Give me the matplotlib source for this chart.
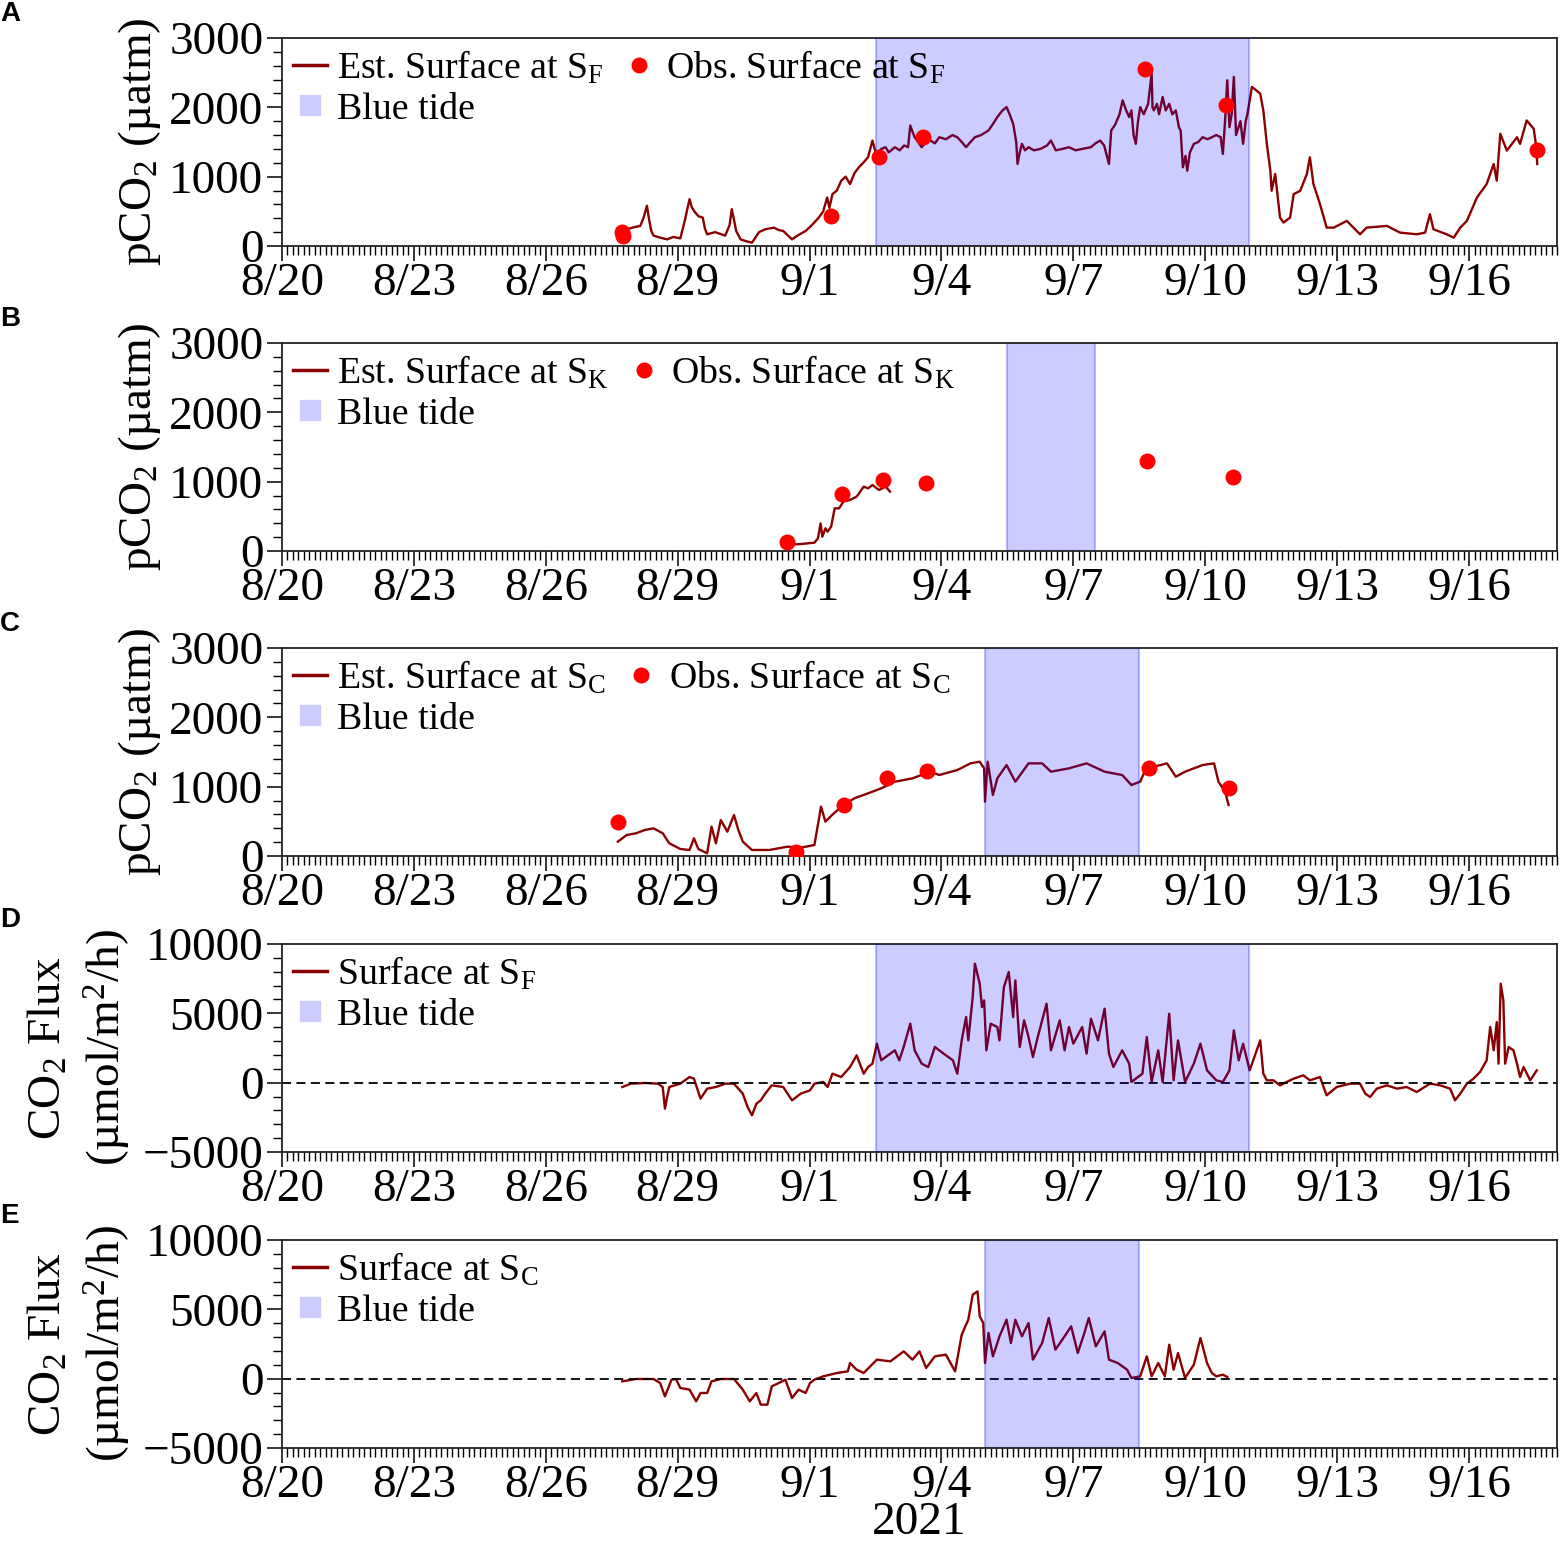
import numpy as np
import matplotlib
matplotlib.use('Agg')
import matplotlib.pyplot as plt
from matplotlib.lines import Line2D
from matplotlib.ticker import MultipleLocator, FixedLocator

plt.rcParams['font.family'] = 'Liberation Serif'
plt.rcParams['mathtext.fontset'] = 'custom'
plt.rcParams['mathtext.rm'] = 'Liberation Serif'
plt.rcParams['mathtext.it'] = 'Liberation Serif:italic'

# -----------------------------------
# Data (x = days since 2021-08-20 00:00)
# -----------------------------------
tick_days = [0, 3, 6, 9, 12, 15, 18, 21, 24, 27]
tick_labels = ['8/20', '8/23', '8/26', '8/29', '9/1', '9/4', '9/7', '9/10', '9/13', '9/16']

# blue tide periods (start, end)
tide_sf = (13.5, 22.0)
tide_sk = (16.5, 18.5)
tide_sc = (16.0, 19.5)

# A: estimated / observed surface pCO2 at S_F
sf_est_day = [7.74, 7.84, 8.00, 8.15, 8.22, 8.30, 8.35, 8.40, 8.45, 8.60, 8.76, 8.90, 9.06, 9.16,
              9.27, 9.32, 9.37, 9.47, 9.57, 9.62, 9.67, 9.85, 10.08, 10.18, 10.23, 10.28, 10.33,
              10.43, 10.55, 10.69, 10.85, 10.99, 11.19, 11.30, 11.40, 11.60, 11.75, 11.91, 12.05,
              12.21, 12.31, 12.40, 12.45, 12.52, 12.62, 12.72, 12.82, 12.92, 13.02, 13.12, 13.22,
              13.33, 13.43, 13.48, 13.53, 13.63, 13.73, 13.80, 13.94, 14.05, 14.15, 14.24, 14.29,
              14.34, 14.39, 14.47, 14.55, 14.65, 14.75, 14.85, 14.95, 15.10, 15.25, 15.36, 15.46,
              15.56, 15.66, 15.76, 15.90, 16.07, 16.17, 16.27, 16.38, 16.48, 16.55, 16.63, 16.70,
              16.73, 16.78, 16.83, 16.90, 16.98, 17.10, 17.25, 17.40, 17.49, 17.60, 17.75, 17.90,
              18.05, 18.20, 18.40, 18.50, 18.61, 18.70, 18.81, 18.86, 18.95, 19.05, 19.12, 19.20,
              19.27, 19.32, 19.37, 19.42, 19.47, 19.52, 19.60, 19.70, 19.78, 19.80, 19.83, 19.90,
              19.95, 20.03, 20.10, 20.18, 20.25, 20.33, 20.40, 20.44, 20.49, 20.55, 20.59, 20.65,
              20.74, 20.84, 20.94, 21.05, 21.15, 21.25, 21.35, 21.40, 21.45, 21.50, 21.55, 21.60,
              21.65, 21.70, 21.80, 21.86, 21.92, 21.96, 22.06, 22.15, 22.25, 22.32, 22.40, 22.48,
              22.51, 22.59, 22.70, 22.78, 22.93, 23.01, 23.16, 23.31, 23.38, 23.46, 23.61, 23.76,
              23.92, 24.22, 24.52, 24.67, 25.13, 25.43, 25.81, 26.00, 26.11, 26.19, 26.49, 26.65,
              26.80, 26.95, 27.18, 27.40, 27.56, 27.63, 27.71, 27.86, 28.09, 28.16, 28.31, 28.47,
              28.53, 28.55]
sf_est_pco2 = [193, 240, 270, 290, 400, 580, 380, 217, 150, 120, 96, 130, 110, 362,
               676, 560, 507, 430, 410, 250, 169, 200, 150, 300, 531, 380, 217,
               96, 70, 48, 200, 241, 265, 230, 217, 96, 160, 217, 300,
               410, 500, 700, 550, 748, 800, 942, 1000, 893, 1050, 1135, 1200,
               1280, 1521, 1400, 1328, 1400, 1425, 1350, 1425, 1380, 1450, 1425, 1738,
               1650, 1569, 1500, 1425, 1500, 1521, 1480, 1569, 1540, 1600, 1569, 1500,
               1425, 1500, 1569, 1600, 1666, 1760, 1859, 1950, 2004, 1900, 1763, 1500,
               1183, 1350, 1473, 1380, 1425, 1380, 1400, 1450, 1521, 1380, 1400, 1425,
               1380, 1400, 1425, 1480, 1521, 1450, 1183, 1666, 1750, 1900, 2101, 1956,
               1859, 1956, 1600, 1473, 1800, 2004, 1900, 2050, 2487, 2000, 1956, 2050,
               1900, 2149, 1956, 2050, 1900, 1956, 1714, 1666, 1135, 1300, 1086, 1350,
               1473, 1500, 1569, 1540, 1569, 1600, 1569, 1328, 1800, 2391, 1714, 1900,
               2439, 1600, 1800, 1473, 1800, 1907, 2294, 2250, 2197, 1956, 1473, 1086,
               797, 1038, 410, 338, 410, 748, 797, 1038, 1280, 893, 603, 265,
               265, 362, 169, 265, 290, 193, 169, 193, 458, 241, 169, 120,
               265, 362, 700, 893, 1183, 942, 1618, 1376, 1569, 1473, 1811, 1690,
               1425, 1183]
sf_obs_day = [7.74, 7.76, 12.49, 13.58, 14.58, 19.62, 21.47, 28.55]
sf_obs_pco2 = [196, 138, 430, 1280, 1570, 2560, 2040, 1380]

# B: S_K
sk_est_day = [11.50, 11.80, 12.11, 12.19, 12.25, 12.29, 12.36, 12.41, 12.49, 12.57, 12.67,
              12.77, 12.92, 13.07, 13.23, 13.33, 13.43, 13.58, 13.73, 13.83]
sk_est_pco2 = [87, 101, 120, 183, 399, 207, 327, 279, 351, 615, 615,
               712, 736, 784, 928, 904, 952, 880, 928, 856]
sk_obs_day = [11.48, 12.73, 13.67, 14.65, 19.67, 21.63]
sk_obs_pco2 = [125, 822, 1024, 985, 1303, 1062]

# C: S_C
sc_est_day = [7.64, 7.84, 8.05, 8.25, 8.45, 8.66, 8.81, 9.06, 9.27, 9.37, 9.47, 9.67, 9.77,
              9.87, 9.98, 10.13, 10.28, 10.38, 10.48, 10.69, 11.09, 11.50, 11.80, 12.11, 12.26,
              12.36, 12.51, 12.77, 13.02, 13.33, 13.63, 13.94, 14.34, 14.75, 14.95, 15.36, 15.66,
              15.87, 15.97, 15.99, 16.05, 16.17, 16.27, 16.48, 16.68, 16.98, 17.29, 17.49, 17.90,
              18.30, 18.71, 19.11, 19.32, 19.52, 19.62, 19.83, 20.13, 20.33, 20.54, 20.94, 21.20,
              21.30, 21.45, 21.53]
sc_est_pco2 = [207, 303, 327, 375, 399, 327, 183, 101, 87, 255, 101, 39, 423,
               183, 519, 351, 591, 375, 207, 87, 87, 135, 120, 159, 712,
               495, 591, 736, 832, 904, 976, 1072, 1120, 1216, 1168, 1240, 1336,
               1360, 1264, 784, 1360, 880, 1120, 1312, 1072, 1336, 1336, 1216, 1264,
               1336, 1216, 1168, 1024, 1072, 1216, 1288, 1336, 1144, 1216, 1312, 1336,
               1072, 928, 736]
sc_obs_day = [7.64, 11.70, 12.79, 13.76, 14.67, 19.72, 21.55]
sc_obs_pco2 = [495, 62, 735, 1120, 1226, 1274, 976]

# D: CO2 flux at S_F
sf_flux_day = [7.74, 7.94, 8.25, 8.55, 8.66, 8.71, 8.76, 8.81, 9.06, 9.27, 9.37, 9.52, 9.62,
               9.67, 9.87, 10.08, 10.28, 10.48, 10.59, 10.69, 10.79, 10.89, 10.99, 11.14, 11.40,
               11.60, 11.80, 12.01, 12.11, 12.31, 12.41, 12.52, 12.72, 12.92, 13.07, 13.23, 13.33,
               13.43, 13.53, 13.63, 13.73, 13.94, 14.04, 14.14, 14.29, 14.39, 14.55, 14.70, 14.85,
               15.05, 15.26, 15.36, 15.46, 15.56, 15.61, 15.71, 15.76, 15.87, 15.92, 15.97, 16.02,
               16.12, 16.27, 16.32, 16.42, 16.53, 16.63, 16.68, 16.78, 16.88, 16.98, 17.08, 17.19,
               17.39, 17.49, 17.69, 17.80, 17.90, 18.00, 18.20, 18.30, 18.40, 18.56, 18.71, 18.81,
               18.91, 19.11, 19.27, 19.32, 19.57, 19.67, 19.78, 19.93, 20.03, 20.18, 20.28, 20.38,
               20.54, 20.74, 20.89, 21.04, 21.25, 21.40, 21.55, 21.65, 21.76, 21.86, 22.01, 22.25,
               22.32, 22.40, 22.55, 22.70, 22.85, 23.01, 23.23, 23.38, 23.61, 23.69, 23.76, 23.99,
               24.29, 24.52, 24.64, 24.75, 24.90, 25.13, 25.36, 25.58, 25.81, 26.11, 26.34, 26.57,
               26.68, 26.80, 26.95, 27.10, 27.25, 27.40, 27.48, 27.56, 27.63, 27.67, 27.72, 27.78,
               27.82, 27.90, 28.01, 28.09, 28.16, 28.24, 28.39, 28.54]
sf_flux = [-312, -72, -24, -72, -312, -1874, -1033, -312, -72, 408, 288, -1153, -673,
           -433, -312, -72, -72, -793, -1754, -2355, -1514, -1274, -793, -192, -312,
           -1274, -793, -553, -72, 48, -312, 649, 408, 1129, 1970, 649, 1129,
           1370, 2812, 1610, 1850, 2331, 1610, 2571, 4253, 2331, 1370, 1129, 2571,
           2091, 1610, 649, 3052, 4734, 3052, 6176, 8579, 7137, 5455, 5935, 2331,
           4253, 4013, 3052, 6897, 7978, 4734, 7377, 2571, 4494, 3292, 1850, 3292,
           5695, 2331, 4494, 2331, 4013, 2812, 4013, 2091, 4614, 3052, 5335, 2091,
           1129, 2331, 1370, 48, 649, 3292, 48, 2331, 48, 4974, 168, 3052,
           48, 1370, 2812, 889, 168, 48, 889, 3773, 1610, 2812, 889, 3052,
           649, 168, 168, -192, 48, 288, 529, 168, 408, -312, -913, -312,
           -72, -72, -793, -1033, -433, -192, -433, -312, -673, -72, -192, -433,
           -1274, -793, -72, 288, 769, 1610, 4013, 2331, 4373, 1370, 7137, 5935,
           1370, 2571, 2331, 1370, 408, 1129, 168, 889]

# E: CO2 flux at S_C
sc_flux_day = [7.74, 8.05, 8.45, 8.60, 8.71, 8.86, 8.96, 9.06, 9.27, 9.42, 9.52, 9.67, 9.77,
               9.98, 10.28, 10.48, 10.64, 10.79, 10.89, 11.04, 11.14, 11.30, 11.45, 11.60, 11.75,
               11.91, 12.01, 12.11, 12.31, 12.62, 12.87, 12.92, 13.07, 13.23, 13.53, 13.84, 14.14,
               14.34, 14.50, 14.65, 14.85, 15.10, 15.31, 15.46, 15.61, 15.71, 15.82, 15.87, 15.95,
               15.99, 16.07, 16.17, 16.32, 16.48, 16.58, 16.68, 16.83, 16.98, 17.08, 17.29, 17.44,
               17.59, 17.80, 17.95, 18.10, 18.25, 18.35, 18.51, 18.71, 18.81, 19.01, 19.22, 19.32,
               19.52, 19.67, 19.78, 19.93, 20.08, 20.18, 20.28, 20.38, 20.54, 20.74, 20.89, 21.04,
               21.15, 21.25, 21.40, 21.50]
sc_flux = [-192, -24, -24, -312, -1274, -72, -24, -673, -793, -1634, -1033, -1033, -192,
           -24, -24, -793, -1634, -1033, -1874, -1874, -553, -312, -72, -1394, -793,
           -1033, -312, -72, 168, 408, 529, 1129, 649, 408, 1370, 1250, 1970,
           1370, 1970, 769, 1610, 1730, 529, 3172, 4253, 6056, 6296, 4494, 4013,
           1129, 3292, 1610, 3052, 4253, 2571, 4253, 3052, 4013, 1370, 2571, 4373,
           2091, 3052, 3773, 1850, 3292, 4373, 2331, 3412, 1370, 1129, 649, 48,
           168, 1610, 168, 1129, 168, 2451, 649, 1850, 48, 1009, 2932, 1129,
           408, 168, 288, 120]

# -----------------------------------
# Styles
# -----------------------------------
line_color = '#8B0000'
tide_face = (0.0, 0.0, 1.0, 0.2)
tide_edge = (0.0, 0.0, 1.0, 0.25)
tick_size = 34
leg_size = 27.3

fig = plt.figure(figsize=(15.61, 15.44), dpi=100)
left, width = 282 / 1561, (1557 - 282) / 1561
tops = [38, 343, 648, 944, 1240]
ax_h = 208 / 1544
axes = [fig.add_axes([left, 1 - (t + 208) / 1544, width, ax_h]) for t in tops]

leg_kw = dict(loc='upper left', frameon=False, fontsize=leg_size, handlelength=0.9,
              handletextpad=0.27, labelspacing=0.15, borderaxespad=0.05, borderpad=0.24)


def style_axis(ax, flux=False):
    ax.set_xlim(0, 29)
    ax.xaxis.set_major_locator(FixedLocator(tick_days))
    ax.set_xticklabels(tick_labels)
    ax.xaxis.set_minor_locator(MultipleLocator(0.125))
    if flux:
        ax.set_ylim(-5000, 10000)
        ax.set_yticks([-5000, 0, 5000, 10000])
        ax.yaxis.set_minor_locator(MultipleLocator(1000))
    else:
        ax.set_ylim(0, 3000)
        ax.set_yticks([0, 1000, 2000, 3000])
        ax.yaxis.set_minor_locator(MultipleLocator(200))
    ax.tick_params(which='major', direction='out', length=10.5, width=1.1,
                   labelsize=tick_size, pad=1.5)
    ax.tick_params(axis='y', which='major', pad=3)
    ax.tick_params(which='minor', direction='out', length=6.5, width=1.0)
    for sp in ax.spines.values():
        sp.set_linewidth(1.3)
        sp.set_color('#222222')


def pco2_panel(ax, est_d, est_v, obs_d, obs_v, tide, site):
    ax.plot(est_d, est_v, color=line_color, lw=1.7, zorder=1)
    ax.axvspan(tide[0], tide[1], facecolor=tide_face, edgecolor=tide_edge, lw=1.5, zorder=2)
    ax.plot(obs_d, obs_v, 'o', color='red', ms=11.5, mec='none', zorder=3)
    style_axis(ax)
    ax.set_ylabel('pCO$_2$ (µatm)', fontsize=tick_size)
    ax.yaxis.set_label_coords(-0.093, 0.5)
    handles = [Line2D([], [], color=line_color, lw=2.5),
               Line2D([], [], marker='s', ls='none', color='#ccccff', ms=14),
               Line2D([], [], marker='o', ls='none', color='red', mec='none', ms=11.5)]
    labels = ['Est. Surface at S$_\\mathrm{%s}$' % site, 'Blue tide',
              'Obs. Surface at S$_\\mathrm{%s}$' % site]
    ax.legend(handles, labels, ncol=2, columnspacing=0.48, **leg_kw)


def flux_panel(ax, d, v, tide, site):
    ax.plot(d, v, color=line_color, lw=1.7, zorder=1)
    ax.axhline(0, color='black', lw=1.3, ls=(0, (5, 3)), zorder=1.5)
    ax.axvspan(tide[0], tide[1], facecolor=tide_face, edgecolor=tide_edge, lw=1.5, zorder=2)
    style_axis(ax, flux=True)
    ax.set_ylabel('CO$_2$ Flux\n(µmol/m$^2$/h)', fontsize=tick_size, linespacing=1.3)
    ax.yaxis.set_label_coords(-0.117, 0.5)
    handles = [Line2D([], [], color=line_color, lw=2.5),
               Line2D([], [], marker='s', ls='none', color='#ccccff', ms=14)]
    labels = ['Surface at S$_\\mathrm{%s}$' % site, 'Blue tide']
    ax.legend(handles, labels, **leg_kw)


pco2_panel(axes[0], sf_est_day, sf_est_pco2, sf_obs_day, sf_obs_pco2, tide_sf, 'F')
pco2_panel(axes[1], sk_est_day, sk_est_pco2, sk_obs_day, sk_obs_pco2, tide_sk, 'K')
pco2_panel(axes[2], sc_est_day, sc_est_pco2, sc_obs_day, sc_obs_pco2, tide_sc, 'C')
flux_panel(axes[3], sf_flux_day, sf_flux, tide_sf, 'F')
flux_panel(axes[4], sc_flux_day, sc_flux, tide_sc, 'C')

axes[4].set_xlabel('2021', fontsize=tick_size, labelpad=-4)

# panel letters
for letter, t in zip('ABCDE', tops):
    fig.text(0.0, 1 - (t - 24) / 1544, letter, ha='left', va='center',
             fontsize=20, fontweight='bold', family='Liberation Sans')

fig.savefig('out.png', dpi=100)
